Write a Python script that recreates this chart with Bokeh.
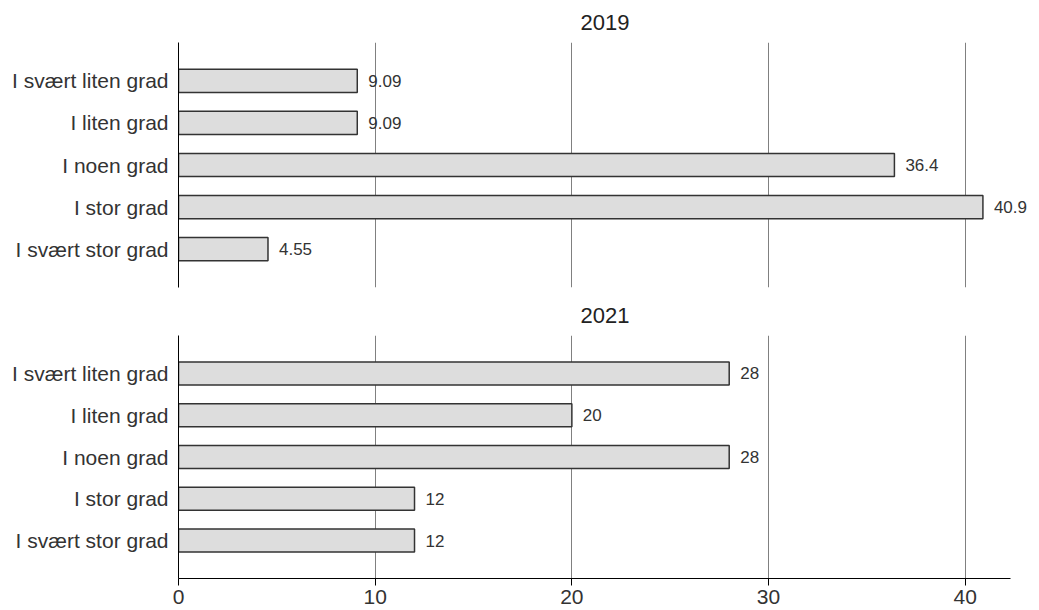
from bokeh.plotting import figure
from bokeh.models import FactorRange, Range1d, FixedTicker, ColumnDataSource
from bokeh.layouts import column
from bokeh.embed import file_html
from bokeh.resources import INLINE
from bokeh.core.properties import value

categories = ["I svært liten grad", "I liten grad", "I noen grad", "I stor grad", "I svært stor grad"]
values_2019 = [9.09, 9.09, 36.4, 40.9, 4.55]
labels_2019 = ["9.09", "9.09", "36.4", "40.9", "4.55"]
values_2021 = [28, 20, 28, 12, 12]
labels_2021 = ["28", "20", "28", "12", "12"]
x_ticks = [0, 10, 20, 30, 40]

FONT = "Liberation Sans"


def make_panel(title, vals, labs, show_xaxis):
    src = ColumnDataSource(dict(cat=categories, val=vals, lab=labs))
    yr = FactorRange(factors=list(reversed(categories)), range_padding=0.41,
                     range_padding_units="absolute")
    p = figure(y_range=yr, x_range=Range1d(0, 43.37), output_backend="svg",
               toolbar_location=None, frame_width=853,
               frame_height=245 if not show_xaxis else 243,
               min_border_left=178, min_border_right=0,
               min_border_top=42,
               min_border_bottom=6 if not show_xaxis else 28,
               title=title)
    p.title.align = "center"
    p.title.offset = -13
    p.title.text_font = FONT
    p.title.text_font_size = "22px"
    p.title.text_font_style = "normal"
    p.title.text_color = "#222222"
    p.title.standoff = 25
    p.outline_line_color = None
    p.ygrid.visible = False
    p.xgrid.ticker = FixedTicker(ticks=x_ticks)
    p.xgrid.grid_line_color = "#808080"
    p.xgrid.grid_line_width = 1
    p.xgrid.grid_line_alpha = 1

    p.hbar(y="cat", right="val", left=0, height=0.55, source=src,
           fill_color="#dddddd", line_color="#333333", line_width=1.5)
    p.text(x="val", y="cat", text="lab", source=src, x_offset=11,
           text_baseline="middle", text_align="left",
           text_font=value(FONT), text_font_size="17px", text_color="#333333")

    ya = p.yaxis[0]
    ya.major_tick_line_color = None
    ya.minor_tick_line_color = None
    ya.major_tick_out = 0
    ya.major_tick_in = 0
    ya.axis_line_color = "#000000"
    ya.axis_line_width = 1
    ya.major_label_text_font = FONT
    ya.major_label_text_font_size = "21px"
    ya.major_label_text_color = "#333333"
    ya.major_label_standoff = 10

    xa = p.xaxis[0]
    if show_xaxis:
        xa.ticker = FixedTicker(ticks=x_ticks)
        xa.bounds = (0, 42.3)
        xa.minor_tick_line_color = None
        xa.major_tick_in = 0
        xa.major_tick_out = 7
        xa.major_tick_line_color = "#000000"
        xa.axis_line_color = "#000000"
        xa.major_label_text_font = FONT
        xa.major_label_text_font_size = "21px"
        xa.major_label_text_color = "#333333"
        xa.major_label_standoff = 4
    else:
        xa.visible = False
    return p


p1 = make_panel("2019", values_2019, labels_2019, False)
p2 = make_panel("2021", values_2021, labels_2021, True)
layout = column(p1, p2, spacing=0)

open("out.html", "w").write(file_html(layout, INLINE))
